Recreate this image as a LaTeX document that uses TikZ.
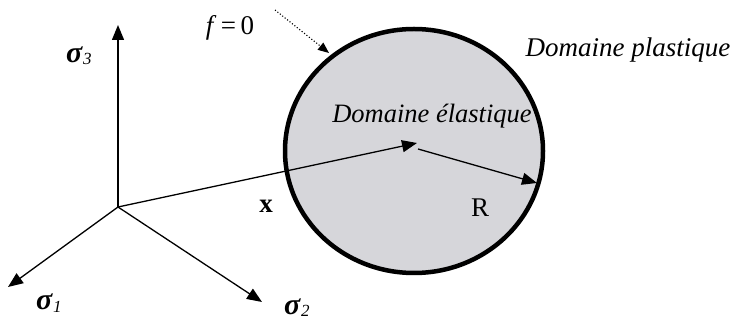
\documentclass[tikz,border=0pt]{standalone}
\usepackage{fontspec}
\setmainfont{Liberation Serif}
\usetikzlibrary{arrows.meta,shapes.geometric}
\definecolor{fillgray}{RGB}{214,214,218}
\tikzset{
  axis/.style={line width=1.3pt,-{Triangle[length=15pt,width=12pt]}},
  lbl/.style={inner sep=0pt,anchor=base,font=\fontsize{27}{30}\selectfont},
  sig/.style={inner sep=0pt,anchor=base west,font=\fontsize{30}{30}\selectfont},
  ital/.style={inner sep=0pt,anchor=base,font=\fontsize{27}{30}\selectfont\itshape}
}
\newcommand{\sigl}[1]{\textbf{\textit{σ}}\raisebox{-2pt}{\fontsize{17}{18}\selectfont\textit{#1}}}
\begin{document}
\begin{tikzpicture}[x=1pt,y=-1pt]
\useasboundingbox (0,0) rectangle (731,320);
% yield surface
\node[draw,line width=4.5pt,fill=fillgray,ellipse,minimum width=258pt,minimum height=244pt,inner sep=0pt] (surf) at (414,151) {};
% origin and axes
\coordinate (O) at (118,207);
\coordinate (s3) at (118,25);
\coordinate (s1) at (8,287);
\coordinate (s2) at (262,302);
\draw[axis] (O) -- (s3);
\draw[axis] (O) -- (s1);
\draw[axis] (O) -- (s2);
% vector x and radius
\coordinate (X) at (417,143);
\coordinate (Rs) at (418,149);
\coordinate (Rend) at (537,183);
\draw[axis] (O) -- (X);
\draw[axis] (Rs) -- (Rend);
% labels
\node[sig] (ls3) at (66,63) {\sigl{3}};
\node[sig] (ls1) at (36,310) {\sigl{1}};
\node[sig] (ls2) at (284,315) {\sigl{2}};
\node[lbl] (lx) at (266,213) {\textbf{x}};
\node[lbl] (lR) at (480,217) {R};
\node[lbl] (lf) at (230,35) {\textit{f}\,=\,0};
\node[ital] (pl) at (628,57) {Domaine plastique};
\node[ital,font=\fontsize{26.5}{30}\selectfont\itshape] (el) at (432,123) {Domaine élastique};
% dotted pointer
\coordinate (fs) at (275,10);
\coordinate (fe) at (329,53);
\draw[line width=1.1pt,dotted,-{Triangle[length=11pt,width=9pt]}] (fs) -- (fe);
\end{tikzpicture}
\end{document}
